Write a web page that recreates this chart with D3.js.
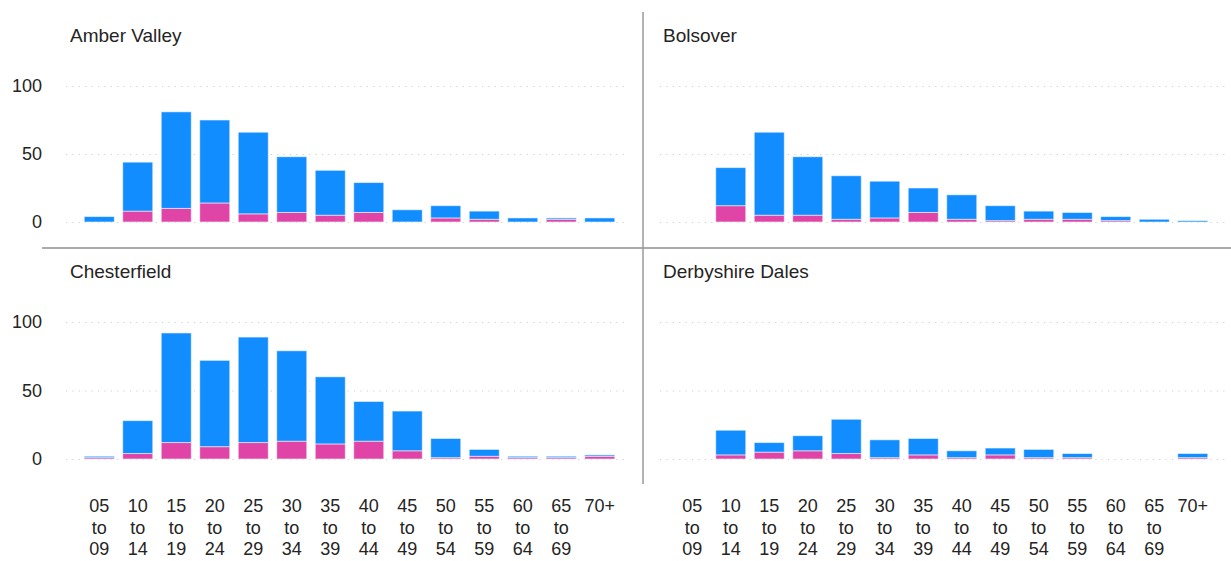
<!DOCTYPE html>
<html>
<head>
<meta charset="utf-8">
<script src="https://cdn.jsdelivr.net/npm/d3@7"></script>
<style>
  html, body { margin: 0; padding: 0; background: #fff; }
  svg { display: block; font-family: "Liberation Sans", Arial, sans-serif; }
</style>
</head>
<body>
<svg id="chart" width="1231" height="561"></svg>
<script>
// Age bands shared by every district panel
const ageBands = ["05 to 09", "10 to 14", "15 to 19", "20 to 24", "25 to 29", "30 to 34",
  "35 to 39", "40 to 44", "45 to 49", "50 to 54", "55 to 59", "60 to 64", "65 to 69", "70+"];

const districts = ["Amber Valley", "Bolsover", "Chesterfield", "Derbyshire Dales"];

// Lower (pink) series per district, by age band
const amberValleyLower    = [0, 8, 10, 14, 6, 7, 5, 7, 0, 3, 2, 0, 2, 0];
const bolsoverLower       = [0, 12, 5, 5, 2, 3, 7, 2, 1, 2, 2, 1, 0, 0];
const chesterfieldLower   = [1, 4, 12, 9, 12, 13, 11, 13, 6, 1, 2, 1, 1, 2];
const derbyshireDalesLower = [0, 3, 5, 6, 4, 1, 3, 1, 3, 1, 1, 0, 0, 1];

// Upper (blue) series per district, by age band
const amberValleyUpper    = [4, 36, 71, 61, 60, 41, 33, 22, 9, 9, 6, 3, 1, 3];
const bolsoverUpper       = [0, 28, 61, 43, 32, 27, 18, 18, 11, 6, 5, 3, 2, 1];
const chesterfieldUpper   = [1, 24, 80, 63, 77, 66, 49, 29, 29, 14, 5, 1, 1, 1];
const derbyshireDalesUpper = [0, 18, 7, 11, 25, 13, 12, 5, 5, 6, 3, 0, 0, 3];

const yTicks = [0, 50, 100];

const lowerByDistrict = [amberValleyLower, bolsoverLower, chesterfieldLower, derbyshireDalesLower];
const upperByDistrict = [amberValleyUpper, bolsoverUpper, chesterfieldUpper, derbyshireDalesUpper];

const colors = { lower: "#E044A7", upper: "#118DFF" };
const textColor = "#252423";

const svg = d3.select("#chart");

// Panel geometry: 2 x 2 grid of small multiples
const cols = [
  { gridX0: 66, gridX1: 629, titleX: 70, bandX0: 80, bandX1: 619, showY: true },
  { gridX0: 660, gridX1: 1229, titleX: 663, bandX0: 673, bandX1: 1212, showY: false }
];
const rows = [
  { zeroY: 222, hundredY: 86, titleY: 42, showX: false },
  { zeroY: 459, hundredY: 322, titleY: 278, showX: true }
];

districts.forEach((name, i) => {
  const col = cols[i % 2];
  const row = rows[Math.floor(i / 2)];
  const g = svg.append("g");

  const x = d3.scaleBand().domain(ageBands).range([col.bandX0, col.bandX1]).paddingInner(0.22).paddingOuter(0.11);
  const y = d3.scaleLinear().domain([0, 100]).range([row.zeroY, row.hundredY]);

  // dotted gridlines
  g.selectAll("line.grid").data(yTicks).join("line")
    .attr("class", "grid")
    .attr("x1", col.gridX0).attr("x2", col.gridX1)
    .attr("y1", d => y(d) + 0.5).attr("y2", d => y(d) + 0.5)
    .attr("stroke", "#cfcfcf").attr("stroke-width", 1.2)
    .attr("stroke-dasharray", "1.2,5.2");

  // y axis labels (left column only)
  if (col.showY) {
    const yAxis = d3.axisLeft(y).tickValues(yTicks).tickSize(0).tickPadding(0);
    const ya = g.append("g").attr("transform", "translate(42,0)").call(yAxis);
    ya.select(".domain").remove();
    ya.selectAll("text").attr("font-size", 18).attr("fill", textColor)
      .attr("font-family", "'Liberation Sans', Arial, sans-serif");
  }

  // stacked bars
  const lower = lowerByDistrict[i];
  const upper = upperByDistrict[i];
  const rowsData = ageBands.map((b, k) => ({ band: b, lower: lower[k], upper: upper[k] }));
  const stacked = d3.stack().keys(["lower", "upper"])(rowsData);

  g.selectAll("g.series").data(stacked).join("g")
    .attr("class", "series")
    .attr("fill", s => colors[s.key])
    .selectAll("rect").data(s => s.filter(d => d[1] - d[0] > 0)).join("rect")
    .attr("x", d => x(d.data.band))
    .attr("width", x.bandwidth())
    .attr("y", d => y(d[1]))
    .attr("height", d => y(d[0]) - y(d[1]))
    .attr("stroke", "rgba(255,255,255,0.55)")
    .attr("stroke-width", 1);

  // panel title
  g.append("text")
    .attr("x", col.titleX).attr("y", row.titleY)
    .attr("font-size", 19).attr("fill", textColor)
    .text(name);

  // x axis labels split over three lines (bottom row only)
  if (row.showX) {
    const xAxis = d3.axisBottom(x).tickSize(0).tickPadding(0);
    const xa = g.append("g").attr("transform", "translate(0,498)").call(xAxis);
    xa.select(".domain").remove();
    xa.selectAll("text").each(function(d) {
      const t = d3.select(this);
      t.text(null).attr("font-size", 18).attr("fill", textColor)
        .attr("font-family", "'Liberation Sans', Arial, sans-serif")
        .attr("dy", null).attr("y", 0);
      d.split(" ").forEach((part, j) => {
        t.append("tspan").attr("x", 0).attr("y", 14 + j * 21.5).text(part);
      });
    });
  }
});

// panel dividers
svg.append("line").attr("x1", 42).attr("x2", 1231).attr("y1", 248).attr("y2", 248)
  .attr("stroke", "#8f8f8f").attr("stroke-width", 1.5);
svg.append("line").attr("x1", 643).attr("x2", 643).attr("y1", 12).attr("y2", 484)
  .attr("stroke", "#9a9a9a").attr("stroke-width", 1.5);
</script>
</body>
</html>
